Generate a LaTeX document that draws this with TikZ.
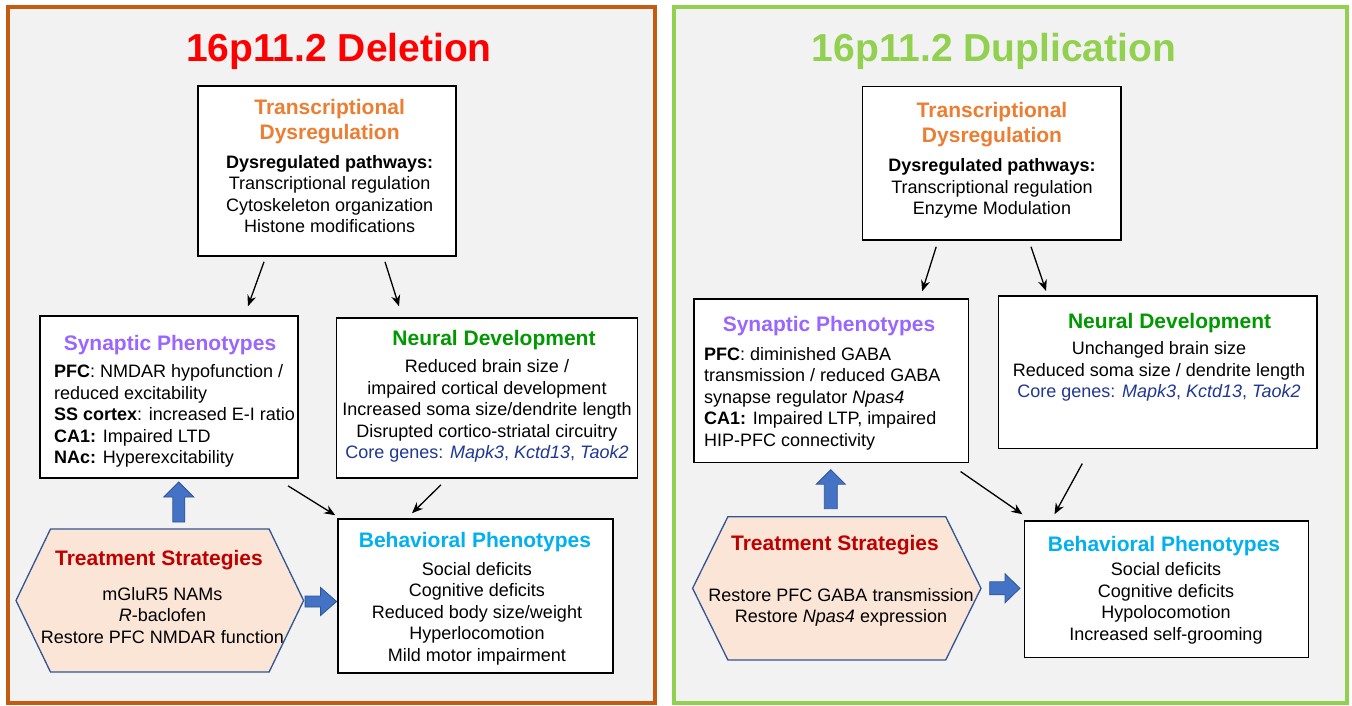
\documentclass[tikz,border=0pt]{standalone}
\usepackage{fontspec}
\setmainfont{Liberation Sans}
\usetikzlibrary{arrows.meta}

\definecolor{delred}{RGB}{255,0,0}
\definecolor{duplime}{RGB}{146,208,80}
\definecolor{deledge}{RGB}{197,90,17}
\definecolor{panelgray}{RGB}{242,242,242}
\definecolor{transorange}{RGB}{237,125,49}
\definecolor{synpurple}{RGB}{153,102,255}
\definecolor{neurgreen}{RGB}{0,153,0}
\definecolor{behblue}{RGB}{0,176,240}
\definecolor{treatred}{RGB}{192,0,0}
\definecolor{genesblue}{RGB}{31,56,147}
\definecolor{hexfill}{RGB}{251,229,214}
\definecolor{hexedge}{RGB}{47,85,151}
\definecolor{blockblue}{RGB}{68,114,196}

\begin{document}
\begin{tikzpicture}[x=1pt,y=-1pt,
    box/.style={draw=black, line width=1.6pt, fill=white, inner sep=0pt},
    hexa/.style={draw=hexedge, line width=1.3pt, fill=hexfill},
    hdr/.style={inner sep=0pt, align=center, font=\fontsize{21}{25}\selectfont\bfseries},
    txt/.style={inner sep=0pt, font=\fontsize{18}{21.5}\selectfont},
    big/.style={anchor=north, inner sep=0pt, font=\fontsize{39}{44}\selectfont\bfseries},
    arr/.style={line width=1.3pt, -{Stealth[length=11pt,width=9pt]}},
    fat/.style={draw=hexedge, line width=0.8pt, fill=blockblue}]
      \useasboundingbox (0,0) rectangle (1352,705);
      \fill[white] (0,0) rectangle (1352,705);
      \draw[draw=deledge, line width=4pt, fill=panelgray] (8,6.5) rectangle (655,703);
      \draw[draw=duplime, line width=4pt, fill=panelgray] (674,6.5) rectangle (1346.5,703);

      % deletion
      \node[big, text=delred] (delTitle) at (339,33) {16p11.2 Deletion};
      \node[box, minimum width=258, minimum height=170] (delTrans) at (327,171) {};
      \node[hdr, anchor=north, text=transorange] (delTransT) at (329.6,99) {Transcriptional\\Dysregulation};
      \node[txt, anchor=north, align=center] (delTransB) at (329.6,155) {\textbf{Dysregulated pathways:}\\Transcriptional regulation\\Cytoskeleton organization\\Histone modifications};

      \node[box, minimum width=258, minimum height=162] (delSyn) at (169,397) {};
      \node[hdr, anchor=north, text=synpurple] (delSynT) at (170,335) {Synaptic Phenotypes};
      \node[txt, anchor=north west, align=left] (delSynB) at (54,364.7) {\textbf{PFC}: NMDAR hypofunction /\\reduced excitability\\\textbf{SS cortex}: increased E-I ratio\\\textbf{CA1:} Impaired LTD\\\textbf{NAc:} Hyperexcitability};

      \node[box, minimum width=301, minimum height=160] (delNeur) at (487,398) {};
      \node[hdr, anchor=north, text=neurgreen] (delNeurT) at (494,330) {Neural Development};
      \node[txt, anchor=north, align=center] (delNeurB) at (487,359.7) {Reduced brain size /\\impaired cortical development\\Increased soma size/dendrite length\\Disrupted cortico-striatal circuitry\\\textcolor{genesblue}{Core genes: \textit{Mapk3}, \textit{Kctd13}, \textit{Taok2}}};

      \node[box, minimum width=275, minimum height=154] (delBeh) at (475.5,596) {};
      \node[hdr, anchor=north, text=behblue] (delBehT) at (475,532.5) {Behavioral Phenotypes};
      \node[txt, anchor=north, align=center] (delBehB) at (477,562) {Social deficits\\Cognitive deficits\\Reduced body size/weight\\Hyperlocomotion\\Mild motor impairment};

      \node[minimum width=287.6, minimum height=143, inner sep=0pt, outer sep=0pt] (delHex) at (159.8,600.5) {};
      \draw[hexa] (delHex.west) -- ([xshift=34.5pt]delHex.north west) -- ([xshift=-34.5pt]delHex.north east) -- (delHex.east) -- ([xshift=-34.5pt]delHex.south east) -- ([xshift=34.5pt]delHex.south west) -- cycle;
      \node[hdr, anchor=north, text=treatred] (delHexT) at (159,550.5) {Treatment Strategies};
      \node[txt, anchor=north, align=center] (delHexB) at (162.5,587) {mGluR5 NAMs\\\textit{R}-baclofen\\Restore PFC NMDAR function};

      \draw[arr] ([xshift=-63pt,yshift=-5pt]delTrans.south) -- ([xshift=79pt,yshift=9pt]delSyn.north);
      \draw[arr] ([xshift=58pt,yshift=-5pt]delTrans.south) -- ([xshift=-88pt,yshift=11pt]delNeur.north);
      \draw[arr] ([xshift=119pt,yshift=-7pt]delSyn.south) -- ([xshift=-2pt,yshift=3pt]delBeh.north west);
      \draw[arr] ([xshift=-46pt,yshift=-6pt]delNeur.south) -- ([xshift=-63.5pt,yshift=5pt]delBeh.north);
      \draw[fat] ([xshift=19pt,yshift=7pt]delHex.north) ++(-6,0) -- ++(0,-25) -- ++(-9,0) -- ++(15,-15) -- ++(15,15) -- ++(-9,0) -- ++(0,25) -- cycle;
      \draw[fat] ([xshift=1.5pt,yshift=-1pt]delHex.east) ++(0,-5.5) -- ++(15.5,0) -- ++(0,-8.5) -- ++(16,14) -- ++(-16,14) -- ++(0,-8.5) -- ++(-15.5,0) -- cycle;

      % duplication
      \node[big, text=duplime] (dupTitle) at (994,33) {16p11.2 Duplication};
      \node[box, minimum width=258.7, minimum height=153.3] (dupTrans) at (991.7,163.3) {};
      \node[hdr, anchor=north, text=transorange] (dupTransT) at (992,102.5) {Transcriptional\\Dysregulation};
      \node[txt, anchor=north, align=center] (dupTransB) at (992,158.7) {\textbf{Dysregulated pathways:}\\Transcriptional regulation\\Enzyme Modulation};

      \node[box, minimum width=274.4, minimum height=163.3] (dupSyn) at (831.2,380.7) {};
      \node[hdr, anchor=north, text=synpurple] (dupSynT) at (829,316.5) {Synaptic Phenotypes};
      \node[txt, anchor=north west, align=left] (dupSynB) at (704,347) {\textbf{PFC}: diminished GABA\\transmission / reduced GABA\\synapse regulator \textit{Npas4}\\\textbf{CA1:} Impaired LTP, impaired\\HIP-PFC connectivity};

      \node[box, minimum width=318.8, minimum height=152.3] (dupNeur) at (1157.8,372.2) {};
      \node[hdr, anchor=north, text=neurgreen] (dupNeurT) at (1169.6,313.2) {Neural Development};
      \node[txt, anchor=north, align=center] (dupNeurB) at (1159,341.3) {Unchanged brain size\\Reduced soma size / dendrite length\\\textcolor{genesblue}{Core genes: \textit{Mapk3}, \textit{Kctd13}, \textit{Taok2}}};

      \node[box, minimum width=284, minimum height=136.3] (dupBeh) at (1166.5,589.2) {};
      \node[hdr, anchor=north, text=behblue] (dupBehT) at (1164,535.8) {Behavioral Phenotypes};
      \node[txt, anchor=north, align=center] (dupBehB) at (1166,562.3) {Social deficits\\Cognitive deficits\\Hypolocomotion\\Increased self-grooming};

      \node[minimum width=288.4, minimum height=143.3, inner sep=0pt, outer sep=0pt] (dupHex) at (836.8,588.3) {};
      \draw[hexa] (dupHex.west) -- ([xshift=35.3pt]dupHex.north west) -- ([xshift=-35.3pt]dupHex.north east) -- (dupHex.east) -- ([xshift=-35.3pt]dupHex.south east) -- ([xshift=35.3pt]dupHex.south west) -- cycle;
      \node[hdr, anchor=north, text=treatred] (dupHexT) at (835,534.8) {Treatment Strategies};
      \node[txt, anchor=north, align=center] (dupHexB) at (841,588) {Restore PFC GABA transmission\\Restore \textit{Npas4} expression};

      \draw[arr] ([xshift=-55.5pt,yshift=-6pt]dupTrans.south) -- ([xshift=91pt,yshift=7pt]dupSyn.north);
      \draw[arr] ([xshift=39.3pt,yshift=-6pt]dupTrans.south) -- ([xshift=-111.8pt,yshift=4.3pt]dupNeur.north);
      \draw[arr] ([xshift=129.4pt,yshift=-8.4pt]dupSyn.south) -- ([xshift=-1.3pt,yshift=6pt]dupBeh.north west);
      \draw[arr] ([xshift=-75.5pt,yshift=-14.4pt]dupNeur.south) -- ([xshift=-112pt,yshift=6pt]dupBeh.north);
      \draw[fat] ([xshift=-6pt,yshift=8pt]dupHex.north) ++(-6.5,0) -- ++(0,-24.5) -- ++(-8,0) -- ++(14.5,-14.5) -- ++(14.5,14.5) -- ++(-8,0) -- ++(0,24.5) -- cycle;
      \draw[fat] ([xshift=8.7pt]dupHex.east) ++(0,-6.5) -- ++(15.3,0) -- ++(0,-8) -- ++(15,14.5) -- ++(-15,14.5) -- ++(0,-8) -- ++(-15.3,0) -- cycle;
%      \draw[fat] ([xshift=-6pt]dupHex.north) -- (dupSyn.south);
    \end{tikzpicture}
\end{document}
